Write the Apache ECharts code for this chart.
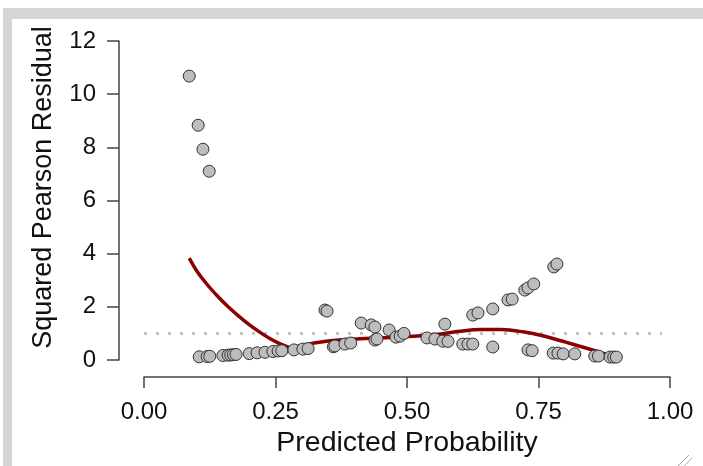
<!DOCTYPE html>
<html>
<head>
<meta charset="utf-8">
<script src="https://cdn.jsdelivr.net/npm/echarts@6/dist/echarts.min.js"></script>
<style>
html,body{margin:0;padding:0;background:#fff;}
#chart{width:703px;height:466px;}
</style>
</head>
<body>
<div id="chart"></div>
<script>
// Observed points: predicted probability and squared Pearson residual
var probs = [0.086,0.103,0.112,0.124,
  0.105,0.12,0.125,0.15,0.16,0.165,0.17,0.175,0.2,0.215,0.23,0.245,0.255,0.262,
  0.285,0.302,0.312,0.344,0.348,0.36,0.363,0.382,0.393,0.413,0.432,0.439,0.439,0.443,0.466,0.479,0.487,0.494,
  0.538,0.553,0.568,0.578,0.572,0.606,0.616,0.625,0.625,0.635,0.663,0.663,0.692,0.7,
  0.724,0.73,0.741,0.779,0.785,0.73,0.738,0.778,0.787,0.797,0.819,0.857,0.864,0.886,0.893,0.898];
var residuals = [10.68,8.83,7.93,7.1,
  0.12,0.13,0.14,0.17,0.18,0.19,0.2,0.21,0.24,0.27,0.29,0.32,0.34,0.35,
  0.38,0.41,0.43,1.88,1.84,0.5,0.53,0.6,0.64,1.39,1.32,1.24,0.75,0.79,1.13,0.86,0.9,1.0,
  0.83,0.79,0.71,0.7,1.35,0.6,0.6,0.6,1.69,1.77,1.92,0.49,2.26,2.29,
  2.63,2.71,2.86,3.5,3.61,0.38,0.35,0.26,0.26,0.23,0.23,0.15,0.15,0.11,0.11,0.11];
// Smoothed (loess) curve
var smoothX = [0.086,0.10,0.12,0.14,0.16,0.18,0.20,0.22,0.24,0.26,0.28,0.30,0.33,0.37,0.42,0.47,0.52,0.56,0.60,0.64,0.68,0.72,0.76,0.80,0.84,0.88];
var smoothY = [3.83,3.36,2.84,2.4,2.0,1.65,1.33,1.05,0.80,0.60,0.47,0.55,0.66,0.75,0.81,0.85,0.90,0.97,1.08,1.15,1.15,1.06,0.90,0.68,0.45,0.21];
// Reference line at residual = 1
var refX = [0.0,0.985];
var refY = [1,1];
var xTicks = [0,0.25,0.5,0.75,1];
var yTicks = [0,2,4,6,8,10,12];

var chart = echarts.init(document.getElementById('chart'));
var pts = probs.map(function(p,i){return [p,residuals[i]];});
var smooth = smoothX.map(function(p,i){return [p,smoothY[i]];});
var ref = refX.map(function(p,i){return [p,refY[i]];});
var fontFam = '"Liberation Sans", Arial, Helvetica, sans-serif';
var axisCol = '#444';

chart.setOption({
  animation:false,
  backgroundColor:'#ffffff',
  grid:{left:144,right:33,top:41,bottom:106,containLabel:false,outerBoundsMode:'none'},
  xAxis:{
    type:'value',min:xTicks[0],max:xTicks[xTicks.length-1],interval:0.25,
    offset:17,
    name:'Predicted Probability',nameLocation:'middle',nameGap:47,
    nameTextStyle:{fontFamily:fontFam,fontSize:28.5,color:'#111'},
    axisLine:{show:true,onZero:false,lineStyle:{color:axisCol,width:1.5}},
    axisTick:{show:true,length:11,inside:false,lineStyle:{color:axisCol,width:1.5}},
    axisLabel:{margin:23,fontFamily:fontFam,fontSize:24,color:'#111',
      formatter:function(v){return v.toFixed(2);}},
    splitLine:{show:false}
  },
  yAxis:{
    type:'value',min:yTicks[0],max:yTicks[yTicks.length-1],interval:2,
    offset:25,
    name:'Squared Pearson Residual',nameLocation:'middle',nameGap:62,
    nameTextStyle:{fontFamily:fontFam,fontSize:27,color:'#111',padding:[0,0,0,26]},
    axisLine:{show:true,onZero:false,lineStyle:{color:axisCol,width:1.5}},
    axisTick:{show:true,length:12,lineStyle:{color:axisCol,width:1.5}},
    axisLabel:{margin:23,fontFamily:fontFam,fontSize:24,color:'#111'},
    splitLine:{show:false}
  },
  series:[
    {type:'line',data:ref,symbol:'none',silent:true,z:1,
      lineStyle:{color:'#c2c2c2',width:3,type:[3,9]}},
    {type:'line',data:smooth,symbol:'none',smooth:0.3,z:2,
      lineStyle:{color:'#8b0000',width:3.5}},
    {type:'scatter',data:pts,symbol:'circle',symbolSize:12,z:3,
      itemStyle:{color:'#bdbdbd',borderColor:'#333',borderWidth:1,opacity:1}}
  ],
  graphic:[
    {type:'rect',shape:{x:3,y:8,width:700,height:11},style:{fill:'#d4d5d7'},silent:true},
    {type:'rect',shape:{x:3,y:8,width:9,height:458},style:{fill:'#d4d5d7'},silent:true},
    {type:'line',shape:{x1:689,y1:455,x2:678,y2:466},style:{stroke:'#aaa',lineWidth:1}},
    {type:'line',shape:{x1:692,y1:458,x2:684,y2:466},style:{stroke:'#aaa',lineWidth:1}}
  ]
});
</script>
</body>
</html>
